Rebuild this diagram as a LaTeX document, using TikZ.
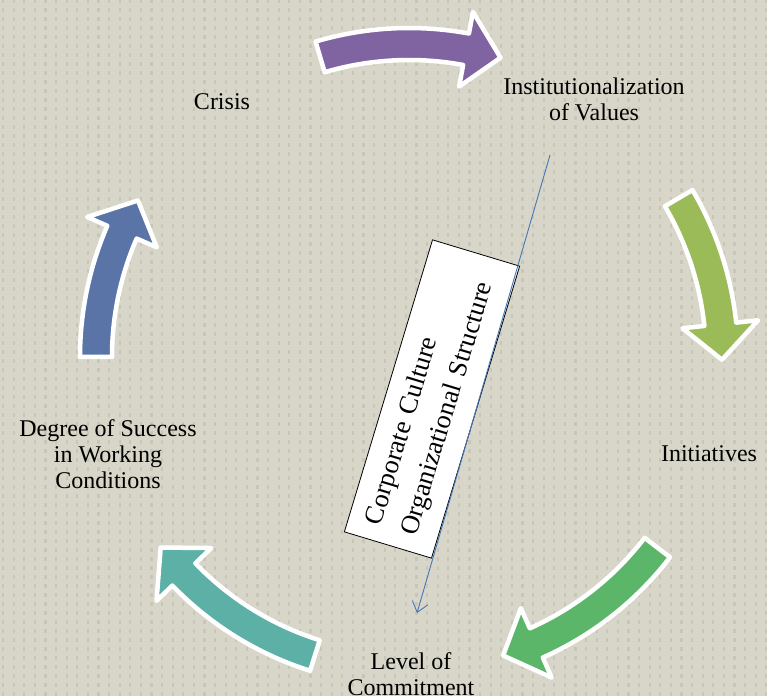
\documentclass[tikz,border=0pt]{standalone}
\usepackage{fontspec}
\setmainfont{Liberation Serif}
\usetikzlibrary{calc,arrows.meta}
\definecolor{bgc}{HTML}{D8D6C8}
\definecolor{knit}{HTML}{A9A99E}
\definecolor{cpurple}{HTML}{8064A2}
\definecolor{colive}{HTML}{9BBB59}
\definecolor{cgreen}{HTML}{5CB66A}
\definecolor{cteal}{HTML}{5CB0A5}
\definecolor{cblue}{HTML}{5A74A8}
\definecolor{lineblue}{HTML}{4676B8}
\tikzset{
  knitcol/.style={draw=knit, line width=2.2pt, opacity=0.35, dash pattern=on 4pt off 5pt},
  cyc/.style={draw=white, line width=4.5pt, line join=round},
  lbl/.style={font=\fontsize{24}{26}\selectfont, align=center, inner sep=0pt},
  boxnode/.style={draw=black, fill=white, line width=0.8pt, rotate=73.2,
    minimum width=305pt, minimum height=91pt, text width=273pt,
    inner xsep=16pt, inner ysep=0pt, align=left,
    font=\fontsize{26.5}{37}\selectfont},
  linkline/.style={draw=lineblue, line width=0.9pt, -{Straight Barb[length=10pt,width=16pt]}}
}
\newcommand\cycarrow[3]{%
  \pgfmathsetmacro\ahd{#3+6.5}%
  \draw[cyc, fill=#1] ($(c)+(#2:329pt)$) arc[start angle=#2, end angle=\ahd, radius=329pt]
    -- ($(c)+(\ahd:351pt)$) -- ($(c)+(#3:313pt)$) -- ($(c)+(\ahd:275pt)$)
    -- ($(c)+(\ahd:297pt)$) arc[start angle=\ahd, end angle=#2, radius=297pt] -- cycle;}
\begin{document}
\begin{tikzpicture}[x=1pt,y=1pt]
\useasboundingbox (0,0) rectangle (767,696);
\fill[bgc] (0,0) rectangle (767,696);
\foreach \k in {0,...,72} {
  \draw[knitcol] (\k*10.6+3,0) -- (\k*10.6+3,696);
}
\coordinate (c) at (409,339);
\cycarrow{cpurple}{106.5}{73}
\cycarrow{colive}{30.5}{-0.5}
\cycarrow{cgreen}{-37.5}{-72.5}
\cycarrow{cteal}{-107.5}{-142.5}
\cycarrow{cblue}{180}{150}

\node[lbl] (crisis) at (222,594) {Crisis};
\node[lbl] (inst) at (594,597) {Institutionalization\\of Values};
\node[lbl] (init) at (709,242) {Initiatives};
\node[lbl] (level) at (411,22) {Level of\\Commitment};
\node[lbl] (degree) at (108,242) {Degree of Success\\in Working\\Conditions};

\node[boxnode] (box) at (432,297) {Corporate Culture\\Organizational Structure};
\coordinate (ls) at (550,541);
\coordinate (le) at (417,83);
\draw[linkline] (ls) -- (le);
\end{tikzpicture}
\end{document}
